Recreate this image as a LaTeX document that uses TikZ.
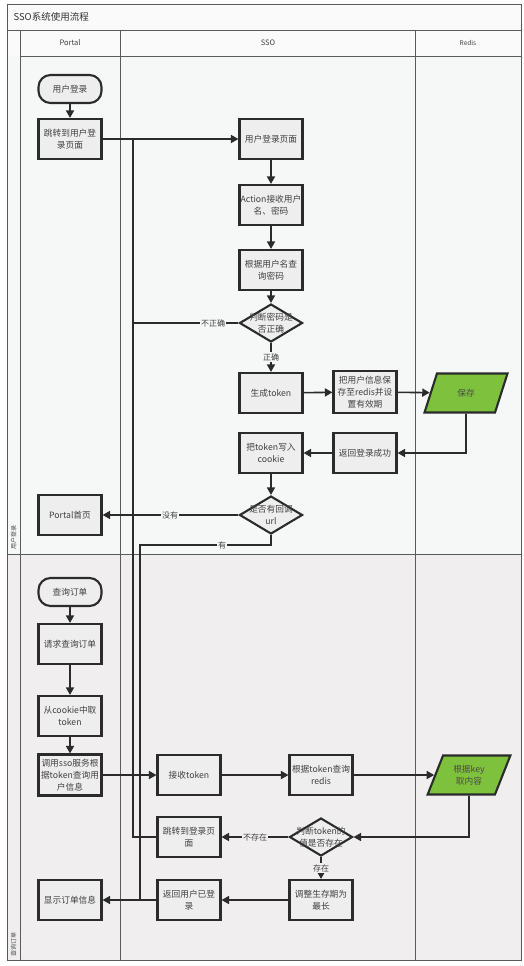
\documentclass[tikz,border=0pt]{standalone}
\usepackage{fontspec}
\setmainfont{Noto Sans CJK SC}
\usetikzlibrary{shapes.geometric,arrows.meta}
\definecolor{framec}{HTML}{5A5A5A}
\definecolor{bx}{HTML}{2B2B2B}
\definecolor{bfill}{HTML}{EEEEEE}
\definecolor{grn}{HTML}{7DC13C}
\definecolor{txt}{HTML}{404040}
\definecolor{bgA}{HTML}{F6F7F7}
\definecolor{bgB}{HTML}{F0EEEE}
\tikzset{
  box/.style={draw=bx, line width=2.1pt, fill=bfill, minimum width=63pt, minimum height=40pt,
    inner sep=1pt, align=center, font=\fontsize{8.7}{12}\selectfont, text=txt},
  term/.style={box, rounded corners=12pt, minimum height=28pt},
  dia/.style={diamond, draw=bx, line width=2.1pt, fill=bfill, minimum width=63pt,
    minimum height=38pt, inner sep=0pt},
  dtext/.style={align=center, font=\fontsize{8.7}{12}\selectfont, text=txt, inner sep=0pt},
  para/.style={trapezium, trapezium left angle=65, trapezium right angle=115,
    trapezium stretches=true, draw=bx, line width=2.1pt, fill=grn, minimum width=83pt,
    minimum height=39pt, inner sep=0pt, align=center, font=\fontsize{8.7}{12}\selectfont, text=black!70},
  conn/.style={draw=bx, line width=1.6pt, -{Triangle[length=7.5pt,width=8pt]}},
  wire/.style={draw=bx, line width=1.6pt},
  lblA/.style={fill=bgA, inner sep=1pt, font=\fontsize{8}{9}\selectfont, text=txt},
  lblB/.style={fill=bgB, inner sep=1pt, font=\fontsize{8}{9}\selectfont, text=txt},
  frm/.style={draw=framec, line width=0.9pt},
  hdr/.style={font=\fontsize{7.5}{9}\selectfont, text=black!75},
}
\begin{document}
\begin{tikzpicture}[x=1pt,y=-1pt]
\useasboundingbox (0,0) rectangle (524,966);
\fill[white] (0,0) rectangle (524,966);
% backgrounds
\fill[bgA!60!white] (7,4) rectangle (521,56);
\fill[bgA] (7,56) rectangle (521,554);
\fill[bgB] (7,554) rectangle (521,960);
% frame
\draw[frm] (7,4) rectangle (521,960);
\draw[frm] (7,30) -- (521,30);
\draw[frm] (20,56) -- (521,56);
\draw[frm] (20,30) -- (20,960);
\draw[frm] (120,30) -- (120,960);
\draw[frm] (415,30) -- (415,960);
\draw[frm] (7,554) -- (521,554);
\node[anchor=west, font=\fontsize{9.5}{11}\selectfont, text=black!80] (title) at (10,17) {SSO系统使用流程};
\node[hdr] (hP) at (70,43) {Portal};
\node[hdr] (hS) at (268,43) {SSO};
\node[hdr, font=\fontsize{6.5}{8}\selectfont] (hR) at (468,43) {Redis};
\node[rotate=90, font=\fontsize{6}{7}\selectfont, text=black!70] (lane1) at (13.5,537) {用户登录};
\node[rotate=90, font=\fontsize{6}{7}\selectfont, text=black!70] (lane2) at (13.5,944) {查询订单};

% lane 1 nodes
\node[term] (s1) at (70,89) {用户登录};
\node[box] (p1) at (70,139) {跳转到用户登\\录页面};
\node[box] (u1) at (271,139) {用户登录页面};
\node[box] (a1) at (271,205) {Action接收用户\\名、密码};
\node[box] (q1) at (271,270) {根据用户名查\\询密码};
\node[dia] (d1) at (271,323) {};
\node[dtext] (d1t) at (d1) {判断密码是\\否正确};
\node[box] (g1) at (271,393) {生成token};
\node[box, minimum height=42pt] (r1) at (365,392) {把用户信息保\\存至redis并设\\置有效期};
\node[para] (sv) at (466,393) {保存};
\node[box] (ret) at (365,453) {返回登录成功};
\node[box] (ck) at (271,453) {把token写入\\cookie};
\node[dia] (d2) at (271,515) {};
\node[dtext] (d2t) at (d2) {是否有回调\\url};
\node[box] (ph) at (70,515) {Portal首页};

% lane 2 nodes
\node[term] (s2) at (70,592) {查询订单};
\node[box] (rq) at (70,644) {请求查询订单};
\node[box] (gt) at (70,716) {从cookie中取\\token};
\node[box, minimum height=41pt] (cs) at (70,775) {调用sso服务根\\据token查询用\\户信息};
\node[box] (rt) at (189,775) {接收token};
\node[box] (rr) at (321,775) {根据token查询\\redis};
\node[para] (gk) at (469,775) {根据key\\取内容};
\node[dia] (d3) at (321,837) {};
\node[dtext] (d3t) at (d3) {判断token的\\值是否存在};
\node[box] (j2) at (189,837) {跳转到登录页\\面};
\node[box] (adj) at (321,900) {调整生存期为\\最长};
\node[box] (ru) at (189,900) {返回用户已登\\录};
\node[box] (so) at (70,900) {显示订单信息};

% helper coordinates
\coordinate (busTop) at (133,139);
\coordinate (busBot) at (133,837);
\coordinate (busErr) at (133,323);
\coordinate (cbA) at (271,545);
\coordinate (cbB) at (140,545);
\coordinate (cbC) at (140,900);
\coordinate (svC) at (466,453);
\coordinate (gkC) at (469,837);

% lane 1 connectors
\draw[conn] (s1) -- (p1);
\draw[wire] (j2.west) -- (busBot) -- (busTop);
\draw[wire] (d1.west) -- (busErr);
\draw[conn] (p1.east) -- (u1.west);
\draw[conn] (u1) -- (a1);
\draw[conn] (a1) -- (q1);
\draw[conn] (q1) -- (d1);
\draw[conn] (d1) -- (g1);
\draw[conn] (g1) -- (r1);
\draw[conn] (r1) -- (sv);
\draw[conn] (sv.south) -- (svC) -- (ret.east);
\draw[conn] (ret) -- (ck);
\draw[conn] (ck) -- (d2);
\draw[conn] (d2.west) -- (ph.east);
\draw[wire] (d2.south) -- (cbA) -- (cbB) -- (cbC);
\fill[bx] (133,515) circle (1.8pt);

% lane 2 connectors
\draw[conn] (s2) -- (rq);
\draw[conn] (rq) -- (gt);
\draw[conn] (gt) -- (cs);
\draw[conn] (cs) -- (rt);
\draw[conn] (rt) -- (rr);
\draw[conn] (rr) -- (gk);
\draw[conn] (gk.south) -- (gkC) -- (d3.east);
\draw[conn] (d3.west) -- (j2.east);
\draw[conn] (d3) -- (adj);
\draw[conn] (adj) -- (ru);
\draw[conn] (ru.west) -- (so.east);

% labels
\node[lblA] (lw) at (213,323) {不正确};
\node[lblA] (lc) at (271,357) {正确};
\node[lblA] (ln) at (170,515) {没有};
\node[lblA] (ly) at (222,545) {有};
\node[lblB] (lx) at (255,837) {不存在};
\node[lblB] (le) at (321,868) {存在};
\end{tikzpicture}
\end{document}
